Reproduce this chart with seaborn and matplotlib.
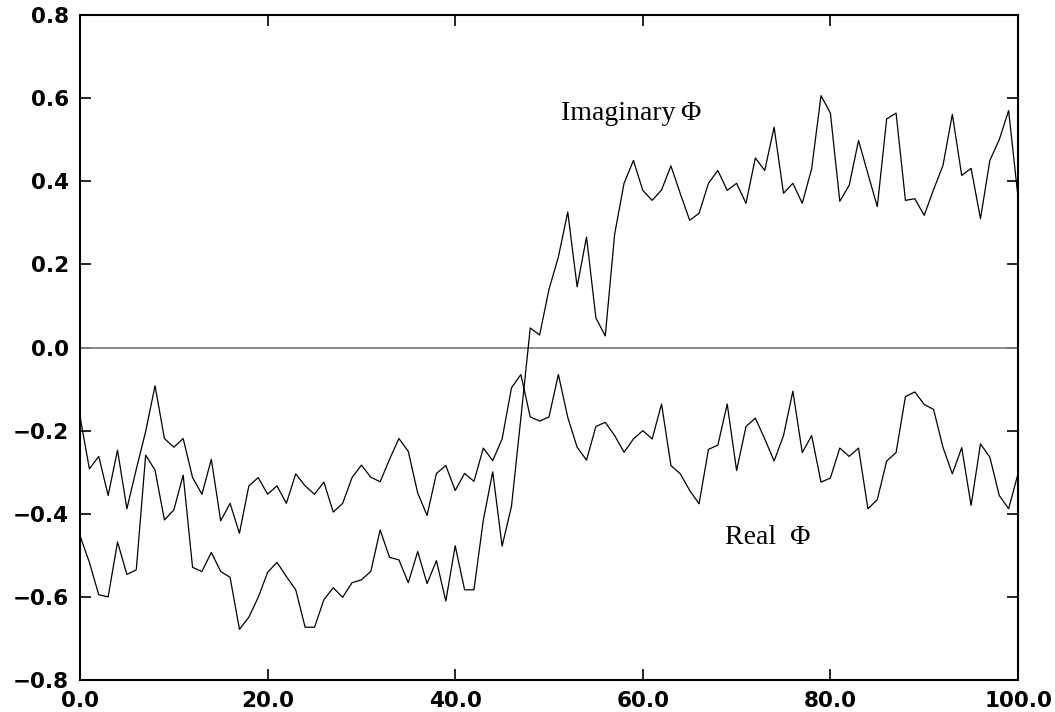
import numpy as np
import pandas as pd
import matplotlib
matplotlib.use("Agg")
import matplotlib.pyplot as plt
import seaborn as sns

x_vals = list(range(0, 101))

real_phi = [
    -0.166, -0.292, -0.262, -0.356, -0.247, -0.388, -0.293, -0.202, -0.092, -0.219,
    -0.240, -0.219, -0.313, -0.353, -0.269, -0.417, -0.375, -0.447, -0.333, -0.313,
    -0.353, -0.333, -0.375, -0.304, -0.333, -0.353, -0.324, -0.396, -0.375, -0.313,
    -0.283, -0.312, -0.323, -0.269, -0.219, -0.250, -0.350, -0.404, -0.303, -0.284,
    -0.344, -0.303, -0.322, -0.242, -0.272, -0.220, -0.097, -0.065, -0.167, -0.177,
    -0.167, -0.065, -0.168, -0.240, -0.271, -0.190, -0.180, -0.212, -0.252, -0.220,
    -0.200, -0.220, -0.136, -0.284, -0.304, -0.344, -0.376, -0.245, -0.235, -0.136,
    -0.296, -0.190, -0.170, -0.220, -0.273, -0.212, -0.105, -0.253, -0.212, -0.324,
    -0.314, -0.242, -0.262, -0.242, -0.388, -0.366, -0.273, -0.253, -0.118, -0.107,
    -0.137, -0.149, -0.240, -0.304, -0.241, -0.380, -0.232, -0.264, -0.356, -0.388,
    -0.304,
]

imag_phi = [
    -0.453, -0.517, -0.595, -0.600, -0.468, -0.546, -0.535, -0.259, -0.295, -0.415,
    -0.391, -0.307, -0.529, -0.539, -0.493, -0.539, -0.553, -0.678, -0.649, -0.601,
    -0.541, -0.517, -0.551, -0.583, -0.673, -0.673, -0.607, -0.578, -0.601, -0.566,
    -0.559, -0.539, -0.439, -0.505, -0.511, -0.566, -0.491, -0.568, -0.513, -0.610,
    -0.477, -0.583, -0.583, -0.415, -0.299, -0.478, -0.382, -0.170, 0.047, 0.030,
    0.140, 0.218, 0.326, 0.146, 0.266, 0.071, 0.028, 0.273, 0.395, 0.450,
    0.378, 0.354, 0.379, 0.437, 0.370, 0.306, 0.323, 0.395, 0.426, 0.378,
    0.395, 0.347, 0.456, 0.426, 0.530, 0.371, 0.395, 0.347, 0.430, 0.606,
    0.564, 0.352, 0.390, 0.498, 0.418, 0.339, 0.550, 0.564, 0.354, 0.358,
    0.318, 0.380, 0.438, 0.561, 0.414, 0.431, 0.310, 0.450, 0.500, 0.570,
    0.362,
]

x_ticks = [0, 20, 40, 60, 80, 100]
x_tick_labels = ["0.0", "20.0", "40.0", "60.0", "80.0", "100.0"]
y_ticks = [-0.8, -0.6, -0.4, -0.2, 0.0, 0.2, 0.4, 0.6, 0.8]
y_tick_labels = ["\u22120.8", "\u22120.6", "\u22120.4", "\u22120.2", "0.0", "0.2", "0.4", "0.6", "0.8"]

sns.set_style("ticks")
plt.rcParams["font.family"] = ["DejaVu Sans"]
plt.rcParams["text.color"] = "black"
plt.rcParams["xtick.color"] = "black"
plt.rcParams["ytick.color"] = "black"
plt.rcParams["axes.labelcolor"] = "black"

fig = plt.figure(figsize=(10.55, 7.12), dpi=100)
ax = fig.add_axes([80 / 1055, 32 / 712, (1018 - 80) / 1055, (680 - 15) / 712])

df = pd.DataFrame({"x": x_vals + x_vals,
                   "value": real_phi + imag_phi,
                   "series": ["Real"] * len(x_vals) + ["Imaginary"] * len(x_vals)})

ax.axhline(0.0, color="#808080", lw=1.3, zorder=1)
sns.lineplot(data=df, x="x", y="value", units="series", estimator=None,
             color="black", lw=0.9, ax=ax, zorder=2, legend=False)

ax.set_xlim(0, 100)
ax.set_ylim(-0.8, 0.8)
ax.set_xticks(x_ticks)
ax.set_xticklabels(x_tick_labels)
ax.set_yticks(y_ticks)
ax.set_yticklabels(y_tick_labels)
ax.set_xlabel("")
ax.set_ylabel("")
ax.tick_params(direction="in", length=8, width=1.2, top=True, right=True,
               labelsize=15.5, pad=8, colors="black")
for lbl in ax.get_xticklabels() + ax.get_yticklabels():
    lbl.set_fontweight("bold")
for sp in ax.spines.values():
    sp.set_linewidth(1.5)
    sp.set_color("black")

ax.text(51.3, 0.563, "Imaginary\u2009\u03a6", family=["Liberation Serif", "DejaVu Serif"],
        fontsize=20, ha="left", va="center", color="black")
ax.text(68.8, -0.457, "Real  \u03a6", family=["Liberation Serif", "DejaVu Serif"],
        fontsize=20, ha="left", va="center", color="black")

fig.savefig("out.png", dpi=100, facecolor="white")
